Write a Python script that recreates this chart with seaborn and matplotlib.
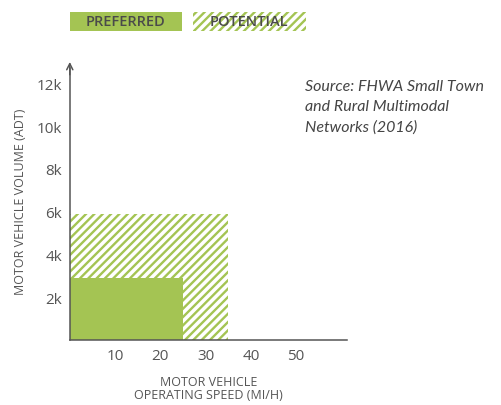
import matplotlib
matplotlib.use("Agg")
import matplotlib.pyplot as plt
import matplotlib.patches as mpatches
import seaborn as sns

# zones: (name, max speed mi/h, max volume ADT)
zones = ["Potential", "Preferred"]
max_speed = [35, 25]
max_volume = [5900, 2900]

x_ticks = [10, 20, 30, 40, 50]
y_ticks = [2000, 4000, 6000, 8000, 10000, 12000]
y_tick_labels = ["2k", "4k", "6k", "8k", "10k", "12k"]

GREEN = "#a4c453"
GREY = "#555555"

sns.set_theme(style="white")
plt.rcParams["font.family"] = ["Open Sans", "DejaVu Sans"]
plt.rcParams["hatch.linewidth"] = 1.7

fig = plt.figure(figsize=(5.02, 4.06), dpi=100)
ax = fig.add_axes([0.139, 0.160, 0.552, 0.685])

for name, sp, vol in zip(zones, max_speed, max_volume):
    if name == "Potential":
        ax.bar(0, vol, width=sp, align="edge", facecolor="white",
               edgecolor=GREEN, hatch="////", linewidth=0, zorder=1)
    else:
        ax.bar(0, vol, width=sp, align="edge", color=GREEN,
               linewidth=0, zorder=2)

ax.set_xlim(0, 61.2)
ax.set_ylim(0, 13000)
ax.set_xticks(x_ticks)
ax.set_yticks(y_ticks)
ax.set_yticklabels(y_tick_labels)
ax.tick_params(direction="inout", length=7, width=1, colors=GREY,
               labelsize=11, pad=2)

sns.despine(ax=ax)
for s in ["left", "bottom"]:
    ax.spines[s].set_color(GREY)
    ax.spines[s].set_linewidth(1.1)
    ax.spines[s].set_zorder(5)
ax.spines["left"].set_bounds(0, 12700)

ax.annotate("", xy=(0, 13000), xytext=(0, 12400), xycoords="data",
            arrowprops=dict(arrowstyle="->", color=GREY, lw=1.1,
                            mutation_scale=11, shrinkA=0, shrinkB=0),
            annotation_clip=False)

ax.set_ylabel("MOTOR VEHICLE VOLUME (ADT)", fontsize=9, color=GREY,
              labelpad=7)
ax.set_xlabel("MOTOR VEHICLE\nOPERATING SPEED (MI/H)", fontsize=9, color=GREY,
              labelpad=9, linespacing=1.0)

# legend boxes at top
fig.patches.append(mpatches.Rectangle((70 / 502, 1 - 32 / 406), 112 / 502, 19 / 406,
                                      transform=fig.transFigure, facecolor=GREEN,
                                      edgecolor="none"))
fig.patches.append(mpatches.Rectangle((193 / 502, 1 - 32 / 406), 113 / 502, 19 / 406,
                                      transform=fig.transFigure, facecolor="white",
                                      edgecolor=GREEN, hatch="////", linewidth=0))
fig.text(126 / 502, 1 - 22.5 / 406, "PREFERRED", ha="center", va="center",
         fontsize=10.5, fontweight="semibold", color="#4a4a4a")
fig.text(249 / 502, 1 - 22.5 / 406, "POTENTIAL", ha="center", va="center",
         fontsize=10.5, fontweight="semibold", color="#4a4a4a")

fig.text(305 / 502, 1 - 80 / 406,
         "Source: FHWA Small Town\nand Rural Multimodal\nNetworks (2016)",
         ha="left", va="top", fontsize=11.5, style="italic", color="#444444",
         family=["Lato", "DejaVu Sans"], linespacing=1.55)

fig.savefig("out.png", dpi=100)
